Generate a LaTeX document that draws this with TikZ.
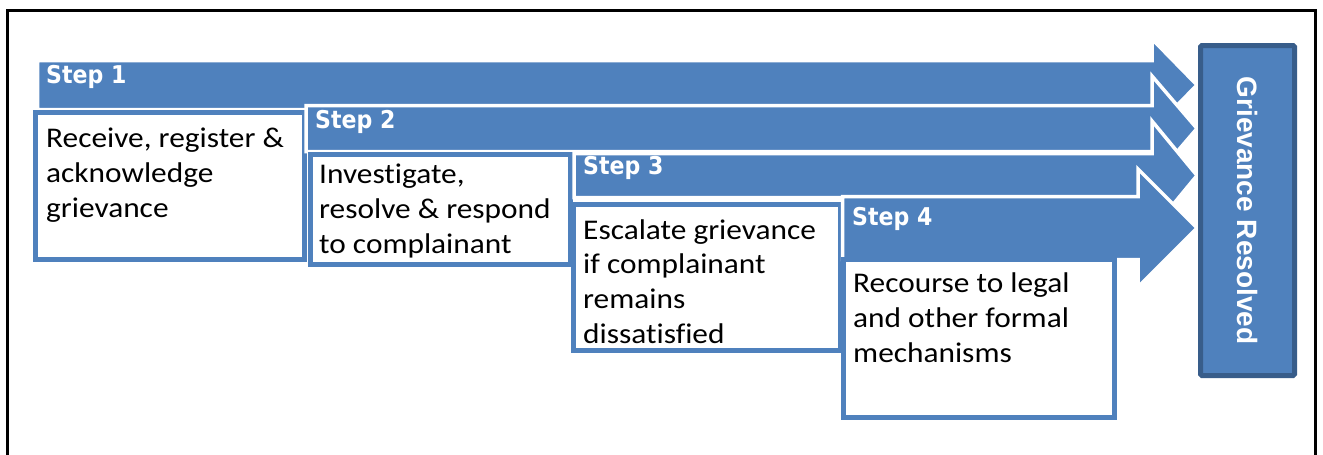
\documentclass[tikz,border=0pt]{standalone}
\usepackage{fontspec}
\setmainfont{Carlito}
\newfontfamily\bodyfont{Carlito}[FakeStretch=1.1, Ligatures=NoCommon]
\newfontfamily\stepfont{DejaVu Sans}[FakeStretch=0.9]
\newfontfamily\resfont{Liberation Sans}
\definecolor{accent}{HTML}{4F81BD}
\definecolor{accentdark}{HTML}{385D8A}
\begin{document}
\begin{tikzpicture}[x=1pt,y=-1pt,
  arrowshape/.style={fill=accent, draw=white, line width=3.5pt, line join=miter},
  stepbox/.style={draw=accent, fill=white, line width=5pt, inner sep=0pt},
  steplabel/.style={anchor=base west, inner sep=0pt, text=white,
    font=\stepfont\bfseries\fontsize{24.5}{29}\selectfont},
  bodytext/.style={anchor=base west, inner sep=0pt, text=black},
  frameline/.style={draw=black, line width=2.5pt}
]
\useasboundingbox (0,0) rectangle (1323,455);
\fill[white] (0,0) rectangle (1323,455);
% frame
\draw[frameline] (7.5,470) -- (7.5,10.5) -- (1315.5,10.5) -- (1315.5,470);

% Step 1
\draw[arrowshape] (37.5,60.5) -- (1152,60.5) -- (1152,39) -- (1197,85) -- (1152,131) -- (1152,109.5) -- (37.5,109.5) -- cycle;
\node[stepbox, minimum width=269pt, minimum height=147pt] (box1) at (170,186) {};
\node[steplabel] (s1) at (46,83) {Step 1};
\node[bodytext] (t1) at (46,147) {\parbox[t]{255pt}{\raggedright\bodyfont\fontsize{28.5}{35}\selectfont Receive, register \&\\acknowledge\\grievance}};

% Step 2
\draw[arrowshape] (306,105.5) -- (1152,105.5) -- (1152,76) -- (1197,128.5) -- (1152,181) -- (1152,151.5) -- (306,151.5) -- cycle;
\node[stepbox, minimum width=260pt, minimum height=110pt] (box2) at (440.5,209.5) {};
\node[steplabel] (s2) at (315,128) {Step 2};
\node[bodytext] (t2) at (319,183) {\parbox[t]{250pt}{\raggedright\bodyfont\fontsize{28.5}{35}\selectfont Investigate,\\resolve \& respond\\to complainant}};

% Step 3
\draw[arrowshape] (574,153.5) -- (1152,153.5) -- (1152,121) -- (1197,175.5) -- (1152,230) -- (1152,197.5) -- (574,197.5) -- cycle;
\node[stepbox, minimum width=267pt, minimum height=146pt] (box3) at (707,277.5) {};
\node[steplabel] (s3) at (583,174) {Step 3};
\node[bodytext] (t3) at (583,239) {\parbox[t]{255pt}{\raggedright\bodyfont\fontsize{28.5}{34.7}\selectfont Escalate grievance\\if complainant\\remains\\dissatisfied}};

% Step 4
\draw[arrowshape] (842.5,196.5) -- (1138,196.5) -- (1138,169) -- (1197,228) -- (1138,287) -- (1138,259.5) -- (842.5,259.5) -- cycle;
\node[stepbox, minimum width=271.5pt, minimum height=158pt] (box4) at (978.75,338.5) {};
\node[steplabel] (s4) at (852,225) {Step 4};
\node[bodytext] (t4) at (853,292) {\parbox[t]{255pt}{\raggedright\bodyfont\fontsize{28.5}{35}\selectfont Recourse to legal\\and other formal\\mechanisms}};

% Result
\node[draw=accentdark, fill=accent, line width=5pt, rounded corners=1.5pt,
      minimum width=94pt, minimum height=330pt, inner sep=0pt] (res) at (1247.5,210.5) {};
\node[rotate=-90, text=white, inner sep=0pt, font=\resfont\bfseries\fontsize{28}{33}\selectfont] (restext) at (res.center) {Grievance Resolved};
\end{tikzpicture}
\end{document}
